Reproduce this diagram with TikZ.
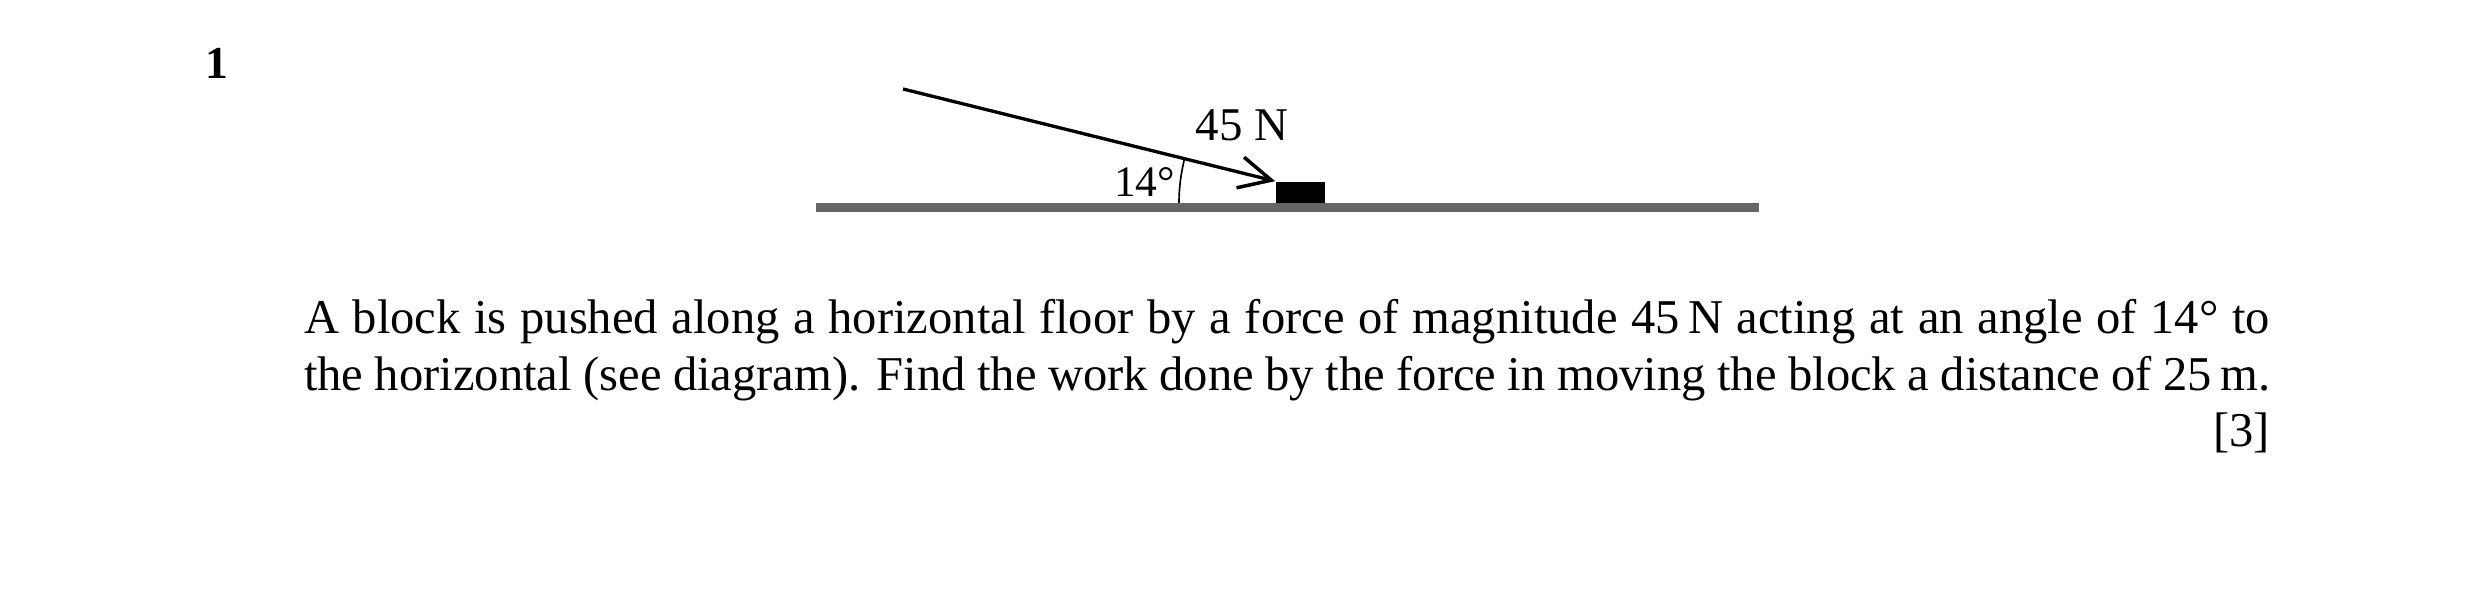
\documentclass[tikz,border=0pt]{standalone}
\usepackage{fontspec}
\setmainfont{Liberation Serif}
\usetikzlibrary{arrows.meta}
\definecolor{floorgray}{HTML}{666666}
\begin{document}
\begin{tikzpicture}[x=0.2409pt,y=-0.2409pt,
  floorline/.style={line width=2.17pt,draw=floorgray},
  blockbox/.style={fill=black,draw=none,inner sep=0pt,minimum width=11.8pt,minimum height=5.06pt},
  force/.style={line width=0.8pt,-{Straight Barb[length=7.7pt,width=7.6pt,line width=0.85pt]}},
  anglearc/.style={line width=0.4pt},
  lbl/.style={inner sep=0pt,outer sep=0pt},
  para/.style={inner sep=0pt,outer sep=0pt,anchor=base west,text width=473.6pt,align=justify,font=\fontsize{11.7}{13.5}\selectfont}]
\useasboundingbox (0,0) rectangle (2480,611);
% floor
\coordinate (floorL) at (816,207.5);
\coordinate (floorR) at (1759,207.5);
\draw[floorline] (floorL) -- (floorR);
% block
\node[blockbox] (block) at (1300.5,192.5) {};
% force
\coordinate (fstart) at (903,89);
\draw[force] (fstart) -- (block.north west);
% angle arc
\coordinate (vertex) at (1359,203);
\draw[anglearc] plot[domain=180:194,samples=30] ({1359+180*cos(\x)},{203+180*sin(\x)});
% labels
\node[lbl,font=\fontsize{11.3}{13}\selectfont,anchor=base] (flabel) at (1242,141) {45 N};
\node[lbl,font=\fontsize{10.5}{12}\selectfont,anchor=base west] (alabel) at (1114,197) {14°};
\node[lbl,font=\fontsize{11}{13}\selectfont\bfseries,anchor=base west] (qnum) at (205,79) {1};
\node[para] (qtext) at (304,334) {A block is pushed along a horizontal floor by a force of magnitude 45\,N acting at an angle of 14° to\linebreak the horizontal (see diagram). Find the work done by the force in moving the block a distance of 25\,m.\linebreak\mbox{}\hspace{0pt plus 1filll}[3]};
\end{tikzpicture}
\end{document}
